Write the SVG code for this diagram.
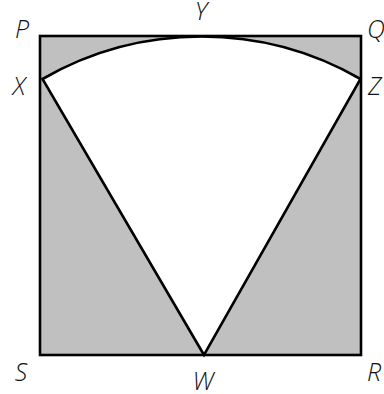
<svg xmlns="http://www.w3.org/2000/svg" width="384" height="394" viewBox="0 0 384 394">
<style>
.lbl{font-family:"Open Sans","Liberation Sans",sans-serif;font-style:italic;font-weight:300;font-size:25px;fill:#111;text-anchor:middle}
.st{text-anchor:start}
.edge{fill:none;stroke:#000;stroke-width:2.6;stroke-linejoin:miter}
</style>
<rect width="384" height="394" fill="#fff"/>
<g id="square">
<rect x="40" y="36" width="321" height="319" fill="#c0c0c0" stroke="none"/>
</g>
<g id="sector">
<path d="M204,355 L42.5,79 A319,319 0 0 1 360.5,79 Z" fill="#fff" stroke="none"/>
</g>
<g id="connectors">
<rect class="edge" x="40" y="36" width="321" height="319"/>
<path class="edge" d="M204,355 L42.5,79 A319,319 0 0 1 360.5,79 Z"/>
</g>
<g id="labels">
<text id="P" class="lbl" x="22" y="38">P</text>
<text id="Y" class="lbl" x="201" y="20">Y</text>
<text id="Q" class="lbl st" x="367" y="38">Q</text>
<text id="X" class="lbl" x="19" y="95">X</text>
<text id="Z" class="lbl st" x="368" y="95">Z</text>
<text id="S" class="lbl" x="21" y="381">S</text>
<text id="W" class="lbl" x="203" y="390">W</text>
<text id="R" class="lbl st" x="367" y="381">R</text>
</g>
</svg>
